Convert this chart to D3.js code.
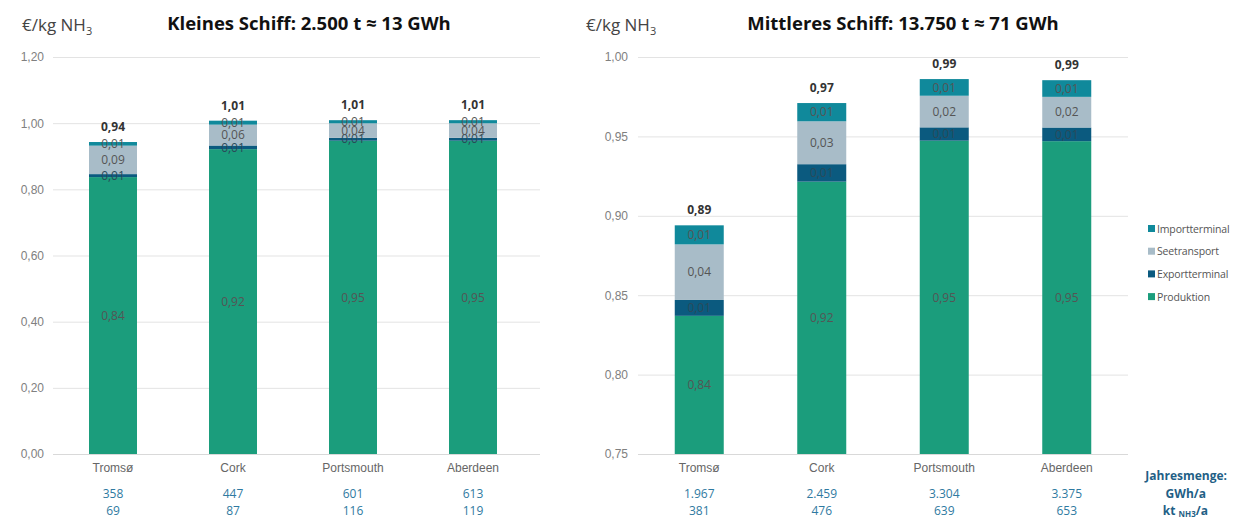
<!DOCTYPE html>
<html lang="de">
<head>
<meta charset="utf-8">
<script src="https://cdn.jsdelivr.net/npm/d3@7"></script>
<style>
  html, body { margin: 0; padding: 0; background: #fff; }
  svg { display: block; font-family: "Open Sans", "Noto Sans", sans-serif; }
  .grid line { stroke: #e3e3e3; }
  .grid .domain { display: none; }
  .grid text { fill: #808080; font-size: 12px; }
  .cat .domain { stroke: #d9d9d9; }
  .cat text { fill: #666; font-size: 12px; }
</style>
</head>
<body>
<svg id="chart" width="1234" height="518"></svg>
<script>
// Standorte und Kostenbestandteile (€/kg NH3)
const standorte = ["Tromsø", "Cork", "Portsmouth", "Aberdeen"];
const komponenten = ["Produktion", "Exportterminal", "Seetransport", "Importterminal"];

// Kleines Schiff: 2.500 t
const kleinProduktion     = [0.837, 0.9215, 0.947, 0.947];
const kleinExportterminal = [0.009, 0.011, 0.0085, 0.0086];
const kleinSeetransport   = [0.086, 0.063, 0.044, 0.044];
const kleinImportterminal = [0.011, 0.012, 0.0095, 0.0095];
const kleinGWh = [358, 447, 601, 613];
const kleinKt  = [69, 87, 116, 119];

// Mittleres Schiff: 13.750 t
const mittelProduktion     = [0.837, 0.9215, 0.9473, 0.947];
const mittelExportterminal = [0.010, 0.011, 0.0084, 0.0086];
const mittelSeetransport   = [0.035, 0.027, 0.0199, 0.0193];
const mittelImportterminal = [0.012, 0.0115, 0.0105, 0.0105];
const mittelGWh = [1967, 2459, 3304, 3375];
const mittelKt  = [381, 476, 639, 653];

const kleinTicks  = [0, 0.2, 0.4, 0.6, 0.8, 1.0, 1.2];
const mittelTicks = [0.75, 0.80, 0.85, 0.90, 0.95, 1.00];

const farben = {
  "Produktion": "#1b9d7c",
  "Exportterminal": "#0b5a7f",
  "Seetransport": "#a8bcc8",
  "Importterminal": "#10899b"
};

const de = d3.formatLocale({ decimal: ",", thousands: ".", grouping: [3], currency: ["", " €"] });
const f2 = de.format(".2f");
const fInt = de.format(",d");

const svg = d3.select("#chart");

function tabelle(prod, exp, see, imp) {
  return standorte.map((s, i) => ({
    standort: s,
    "Produktion": prod[i],
    "Exportterminal": exp[i],
    "Seetransport": see[i],
    "Importterminal": imp[i]
  }));
}

function zeichne(opt) {
  const g = svg.append("g");
  const x = d3.scaleBand().domain(standorte).range(opt.xRange).paddingInner(0.6).paddingOuter(0.3);
  const y = d3.scaleLinear().domain(opt.yDomain).range([454, 57]).clamp(true);
  const breite = opt.gridEnd - opt.xRange[0];

  // Gitterlinien und Achsenbeschriftung
  g.append("g").attr("class", "grid")
    .attr("transform", `translate(${opt.xRange[0]},0)`)
    .call(d3.axisLeft(y).tickValues(opt.ticks).tickFormat(f2)
      .tickSizeInner(-breite).tickSizeOuter(0).tickPadding(opt.tickPad))
    .call(s => s.selectAll("line").filter(d => d === opt.yDomain[0]).remove());

  // Gestapelte Balken
  const daten = tabelle(...opt.werte);
  const stapel = d3.stack().keys(komponenten)(daten);
  const ebenen = g.append("g").selectAll("g").data(stapel).join("g")
    .attr("fill", d => farben[d.key]);
  ebenen.selectAll("rect").data(d => d).join("rect")
    .attr("x", d => x(d.data.standort))
    .attr("width", x.bandwidth())
    .attr("y", d => y(d[1]))
    .attr("height", d => y(d[0]) - y(d[1]));

  // Werte in den Segmenten
  const beschr = g.append("g").attr("font-size", 12).attr("text-anchor", "middle");
  stapel.forEach(layer => {
    layer.forEach(d => {
      const lo = Math.max(d[0], opt.yDomain[0]);
      beschr.append("text")
        .attr("x", x(d.data.standort) + x.bandwidth() / 2)
        .attr("y", (y(lo) + y(d[1])) / 2)
        .attr("dy", "0.35em")
        .attr("fill", layer.key === "Exportterminal" ? "#2a4a5a" : "#555")
        .text(f2(d[1] - d[0]));
    });
  });

  // Summen über den Balken
  g.append("g").selectAll("text").data(daten).join("text")
    .attr("x", d => x(d.standort) + x.bandwidth() / 2)
    .attr("y", d => y(komponenten.reduce((a, k) => a + d[k], 0)) - 11)
    .attr("text-anchor", "middle")
    .attr("font-size", 12).attr("font-weight", 700).attr("fill", "#333")
    .text(d => f2(komponenten.reduce((a, k) => a + d[k], 0)));

  // Kategorieachse
  g.append("g").attr("class", "cat")
    .attr("transform", "translate(0,454)")
    .call(d3.axisBottom(x).tickSize(0).tickPadding(9).tickSizeOuter(0))
    .call(s => s.select(".domain").attr("d", `M${opt.xRange[0]},0.5H${opt.gridEnd}`));

  // Jahresmengen unter den Standorten
  const mengen = g.append("g").attr("font-size", 12).attr("fill", "#2f7aa1").attr("text-anchor", "middle");
  standorte.forEach((s, i) => {
    const cx = x(s) + x.bandwidth() / 2;
    mengen.append("text").attr("x", cx).attr("y", 497.5).text(fInt(opt.gwh[i]));
    mengen.append("text").attr("x", cx).attr("y", 514.5).text(fInt(opt.kt[i]));
  });

  // Titel und Einheit
  g.append("text").attr("x", opt.unitX).attr("y", 31)
    .attr("font-size", 17).attr("fill", "#444")
    .call(t => {
      t.append("tspan").text("€/kg NH");
      t.append("tspan").attr("font-size", 11).attr("dy", 4).text("3");
    });
  g.append("text").attr("x", opt.titleX).attr("y", 30)
    .attr("text-anchor", "middle").attr("font-size", 18.5).attr("font-weight", 700).attr("fill", "#111")
    .text(opt.titel);
}

zeichne({
  xRange: [53, 533], gridEnd: 540, yDomain: [0, 1.2], ticks: kleinTicks, tickPad: 9,
  werte: [kleinProduktion, kleinExportterminal, kleinSeetransport, kleinImportterminal],
  gwh: kleinGWh, kt: kleinKt, unitX: 22, titleX: 309,
  titel: "Kleines Schiff: 2.500 t ≈ 13 GWh"
});

zeichne({
  xRange: [638, 1128], gridEnd: 1128, yDomain: [0.75, 1.0], ticks: mittelTicks, tickPad: 10,
  werte: [mittelProduktion, mittelExportterminal, mittelSeetransport, mittelImportterminal],
  gwh: mittelGWh, kt: mittelKt, unitX: 586, titleX: 903,
  titel: "Mittleres Schiff: 13.750 t ≈ 71 GWh"
});

// Legende
const legende = svg.append("g").attr("font-size", 10.5).attr("letter-spacing", -0.15).attr("fill", "#555");
komponenten.slice().reverse().forEach((k, i) => {
  const yy = 229 + i * 22.7;
  legende.append("rect").attr("x", 1148).attr("y", yy - 4).attr("width", 7).attr("height", 7).attr("fill", farben[k]);
  legende.append("text").attr("x", 1157).attr("y", yy).attr("dy", "0.35em").text(k);
});

// Beschriftung der Jahresmengen
const fuss = svg.append("g").attr("font-size", 12).attr("font-weight", 700).attr("fill", "#1f5f86").attr("text-anchor", "end");
fuss.append("text").attr("x", 1227).attr("y", 480).text("Jahresmenge:");
fuss.append("text").attr("x", 1206).attr("y", 497.5).text("GWh/a");
fuss.append("text").attr("x", 1208).attr("y", 514.5).call(t => {
  t.append("tspan").text("kt ");
  t.append("tspan").attr("font-size", 8).attr("dy", 2).text("NH3");
  t.append("tspan").attr("dy", -2).text("/a");
});
</script>
</body>
</html>
